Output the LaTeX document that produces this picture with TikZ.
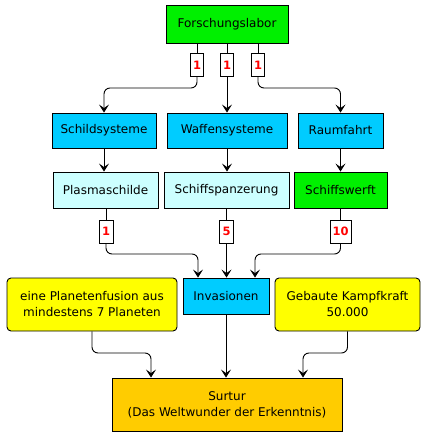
\documentclass[tikz,border=0pt]{standalone}
\usepackage{fontspec}
\setmainfont{DejaVu Sans}
\usetikzlibrary{arrows.meta}
\definecolor{cgreen}{RGB}{0,240,0}
\definecolor{ccyan}{RGB}{0,204,255}
\definecolor{clcyan}{RGB}{204,255,255}
\definecolor{cyel}{RGB}{255,255,0}
\definecolor{corange}{RGB}{255,204,0}
\begin{document}
\begin{tikzpicture}[x=1pt,y=-1pt,
  box/.style={draw=black,line width=0.9pt,inner sep=2pt,font=\fontsize{12}{16}\selectfont,align=center},
  lbl/.style={draw=black,fill=white,line width=0.7pt,inner sep=0pt,minimum height=23pt,text=red,font=\bfseries\fontsize{11.5}{13}\selectfont},
  arr/.style={line width=0.9pt,-{Stealth[length=8pt,width=10pt,inset=3.5pt]},rounded corners=6pt},
  ln/.style={line width=0.9pt}]
\useasboundingbox (0,0) rectangle (427,438);
\node[box,fill=cgreen,minimum width=122pt,minimum height=38pt] (F) at (227,24) {Forschungslabor};
\node[box,fill=ccyan,minimum width=104pt,minimum height=35pt] (S1) at (104,130.5) {Schildsysteme};
\node[box,fill=ccyan,minimum width=120pt,minimum height=35pt] (S2) at (227,130.5) {Waffensysteme};
\node[box,fill=ccyan,minimum width=85pt,minimum height=35pt] (S3) at (340.5,130.5) {Raumfahrt};
\node[box,fill=clcyan,minimum width=105pt,minimum height=36pt] (P1) at (105.5,190) {Plasmaschilde};
\node[box,fill=clcyan,minimum width=125pt,minimum height=36pt] (P2) at (226.5,190) {Schiffspanzerung};
\node[box,fill=cgreen,minimum width=93pt,minimum height=36pt] (P3) at (340.5,190) {Schiffswerft};
\node[box,fill=ccyan,minimum width=86pt,minimum height=36pt] (I) at (226,296) {Invasionen};
\node[box,fill=cyel,rounded corners=4pt,minimum width=170pt,minimum height=53pt] (Y1) at (92,304.5) {eine Planetenfusion aus\\mindestens 7 Planeten};
\node[box,fill=cyel,rounded corners=4pt,minimum width=145pt,minimum height=53pt] (Y2) at (347.5,304.5) {Gebaute Kampfkraft\\50.000};
\node[box,fill=corange,minimum width=230pt,minimum height=53pt] (T) at (227,404.5) {Surtur\\(Das Weltwunder der Erkenntnis)};
% labels
\node[lbl,minimum width=13pt] (a1) at (197,65) {1};
\node[lbl,minimum width=13pt] (a2) at (227,65) {1};
\node[lbl,minimum width=13pt] (a3) at (258,65) {1};
\node[lbl,minimum width=14pt] (b1) at (106,231.5) {1};
\node[lbl,minimum width=14pt] (b2) at (226.5,231.5) {5};
\node[lbl,minimum width=21pt] (b3) at (340.5,231.5) {10};
\coordinate (h1) at (0,88);
\coordinate (h2) at (0,254);
\coordinate (h3) at (0,353);
\coordinate (i1) at (198,0);
\coordinate (i3) at (255,0);
\coordinate (t1) at (151,0);
\coordinate (t3) at (303,0);
% top connectors
\draw[ln] (F.south -| a1) -- (a1.north);
\draw[ln] (F.south -| a2) -- (a2.north);
\draw[ln] (F.south -| a3) -- (a3.north);
\draw[arr] (a1.south) -- (a1.south |- h1) -| (S1.north);
\draw[arr] (a2.south) -- (S2.north);
\draw[arr] (a3.south) -- (a3.south |- h1) -| (S3.north);
% row1 to row2
\draw[arr] (S1.south) -- (P1.north -| S1.south);
\draw[arr] (S2.south) -- (P2.north -| S2.south);
\draw[arr] (S3.south) -- (P3.north -| S3.south);
% row2 to labels
\draw[ln] (P1.south -| b1) -- (b1.north);
\draw[ln] (P2.south) -- (b2.north);
\draw[ln] (P3.south) -- (b3.north);
\draw[arr] (b1.south) -- (b1.south |- h2) -| (I.north -| i1);
\draw[arr] (b2.south) -- (I.north -| b2.south);
\draw[arr] (b3.south) -- (b3.south |- h2) -| (I.north -| i3);
% to Surtur
\draw[arr] (Y1.south) -- (Y1.south |- h3) -| (T.north -| t1);
\draw[arr] (I.south) -- (T.north -| I.south);
\draw[arr] (Y2.south) -- (Y2.south |- h3) -| (T.north -| t3);
\end{tikzpicture}
\end{document}
